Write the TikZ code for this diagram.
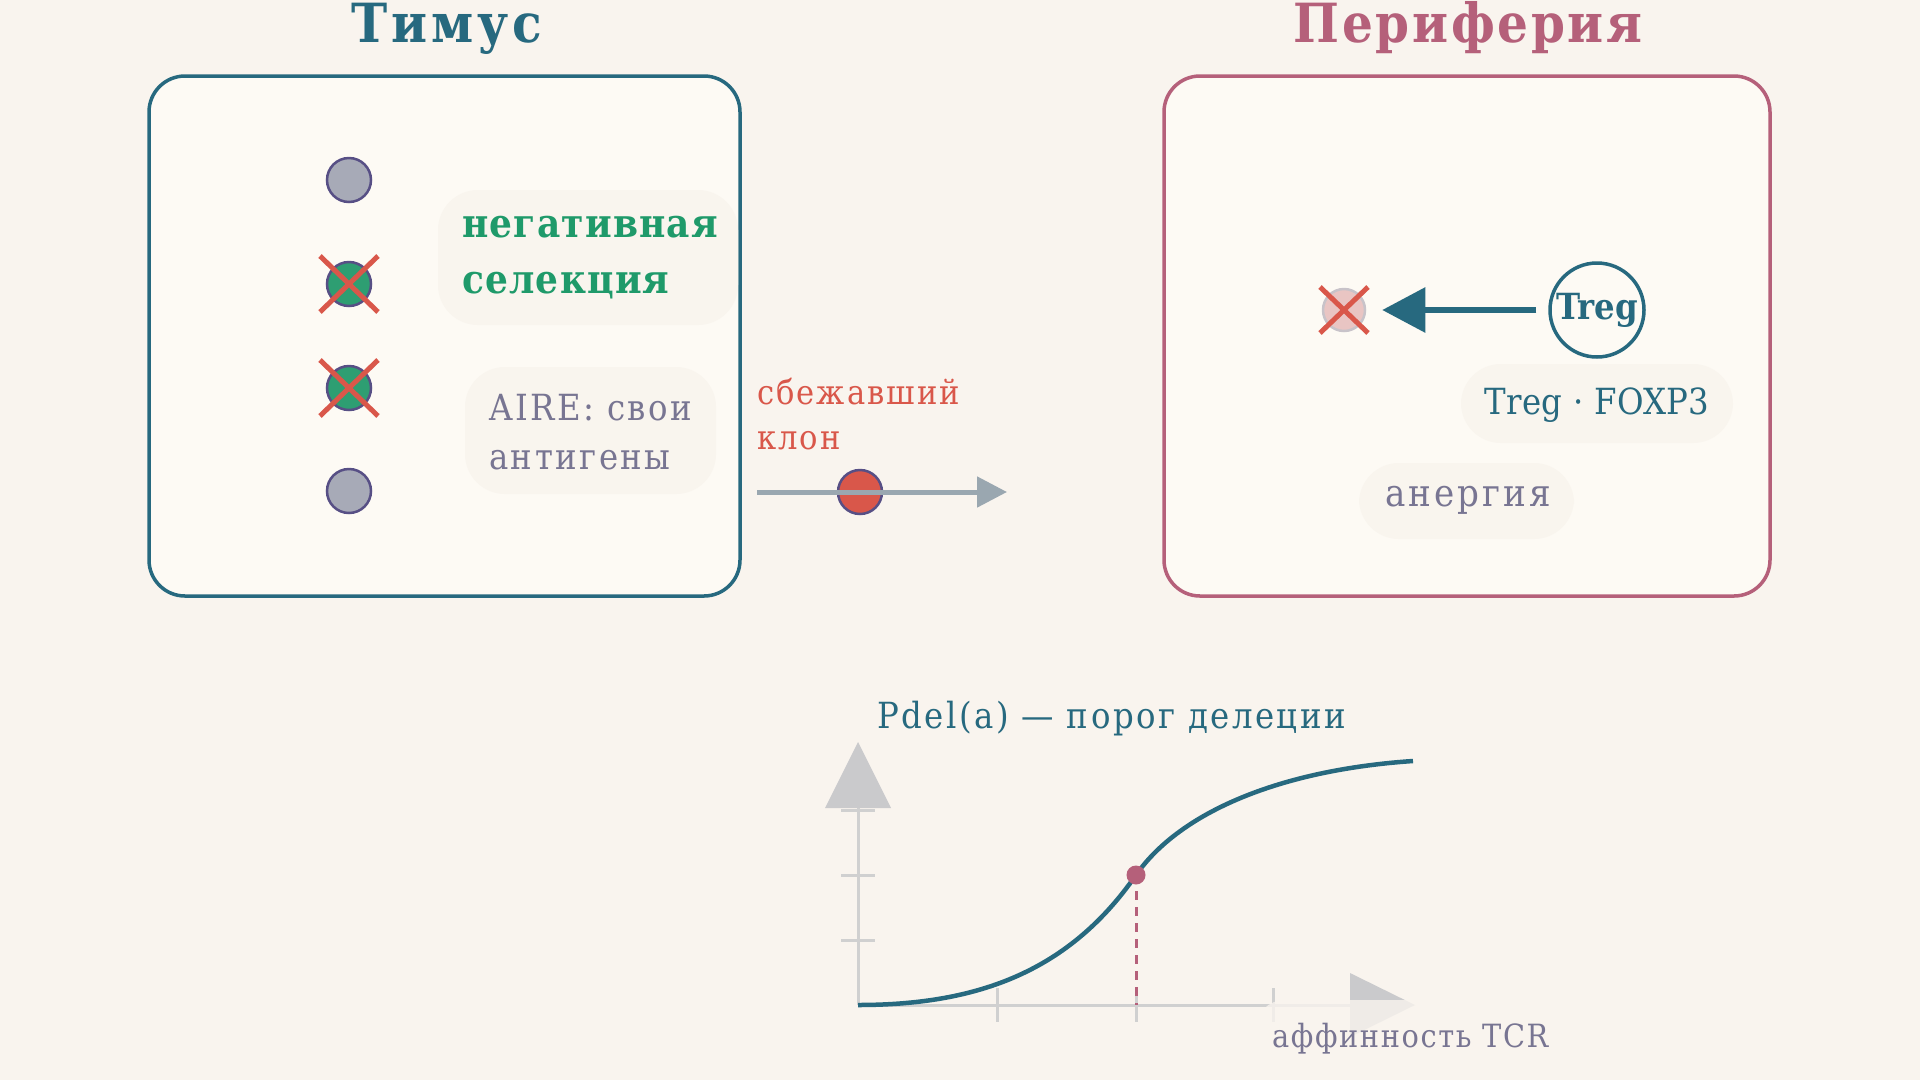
\documentclass[tikz,border=0pt]{standalone}
\usepackage{fontspec}
\setmainfont{DejaVu Serif Condensed}
\usetikzlibrary{arrows.meta}
\definecolor{bg}{HTML}{F9F4EE}
\definecolor{boxfill}{HTML}{FDFAF4}
\definecolor{bubblec}{HTML}{F9F5EE}
\definecolor{teal}{HTML}{27697F}
\definecolor{rose}{HTML}{B5607A}
\definecolor{selgreen}{HTML}{1F9A6A}
\definecolor{xred}{HTML}{D9574A}
\definecolor{grayp}{HTML}{787592}
\definecolor{cellborder}{HTML}{574F85}
\definecolor{cellgray}{HTML}{A7AAB7}
\definecolor{cellgreen}{HTML}{2E9E72}
\definecolor{arrowgray}{HTML}{9AA7B0}
\definecolor{axisc}{HTML}{D0D0D0}
\definecolor{axhead}{HTML}{CACACC}
\definecolor{deadfill}{HTML}{E9C5C3}
\definecolor{deadborder}{HTML}{C8C3C9}
\tikzset{
  panel/.style={fill=boxfill, line width=3.5pt, rounded corners=36pt},
  bubble/.style={fill=bubblec, rounded corners=40pt},
  cell/.style={circle, draw=cellborder, line width=2.5pt, minimum size=44pt, inner sep=0pt},
  xmark/.style={draw=xred, line width=5pt},
  axisline/.style={draw=axisc, line width=3pt},
  tickline/.style={draw=axisc, line width=3pt},
}
\newcommand{\fs}[2]{\fontsize{#1}{#2}\selectfont}
\newcommand{\lsp}[1]{\addfontfeatures{LetterSpace=#1}}
\begin{document}
\begin{tikzpicture}[x=1pt,y=-1pt]
\useasboundingbox (0,0) rectangle (1920,1080);
\fill[bg] (0,0) rectangle (1920,1080);

% titles
\node[anchor=base, text=teal, font=\bfseries\fs{54}{60}\lsp{7}, inner sep=0pt] (t1) at (447,42) {Тимус};
\node[anchor=base, text=rose, font=\bfseries\fs{54}{60}\lsp{5}, inner sep=0pt] (t2) at (1468,42) {Периферия};

% panels
\draw[panel, draw=teal] (149,76) rectangle (740,596);
\draw[panel, draw=rose] (1164,76) rectangle (1770,596);

% bubbles
\fill[bubble] (438,190) rectangle (738,325);
\fill[bubble] (465,367) rectangle (716,494);
\fill[bubble] (1461,364) rectangle (1733,443);
\fill[bubble] (1359,463) rectangle (1574,539);

% thymus cells
\node[cell, fill=cellgray] (c1) at (349,180) {};
\node[cell, fill=cellgreen] (c2) at (349,284) {};
\node[cell, fill=cellgreen] (c3) at (349,388) {};
\node[cell, fill=cellgray] (c4) at (349,491) {};
\draw[xmark] (c2.center) +(-29,-28) -- +(29,28) (c2.center) +(-29,28) -- +(29,-28);
\draw[xmark] (c3.center) +(-29,-28) -- +(29,28) (c3.center) +(-29,28) -- +(29,-28);

% thymus texts
\node[anchor=base west, align=left, text=selgreen, font=\bfseries\fs{40}{56}\lsp{3}, inner sep=0pt] (neg) at (462,293) {негативная\\селекция};
\node[anchor=base west, align=left, text=grayp, font=\fs{36}{49}\lsp{7}, inner sep=0pt] (aire) at (489,469) {AIRE: свои\\антигены};

% escaped clone
\node[anchor=base west, align=left, text=xred, font=\fs{34}{45}\lsp{6}, inner sep=0pt] (esc) at (757,449) {сбежавший\\клон};
\node[cell, fill=xred] (clone) at (860,492) {};
\coordinate (e0) at (757,492);
\coordinate (e1) at (1007,492);
\draw[draw=arrowgray, line width=5pt, -{Triangle[length=30pt,width=30pt]}] (e0) -- (e1);

% periphery
\node[circle, fill=deadfill, draw=deadborder, line width=2.5pt, minimum size=42pt, inner sep=0pt] (dead) at (1344,310) {};
\draw[xmark] (dead.center) +(-24,-23) -- +(24,23) (dead.center) +(-24,23) -- +(24,-23);
\node[circle, draw=teal, line width=3.5pt, minimum size=94pt, inner sep=0pt, text=teal, font=\bfseries\fs{36}{40}] (treg) at (1597,310) {Treg};
\draw[draw=teal, line width=6pt, shorten <=12pt, shorten >=16pt, -{Triangle[length=43pt,width=44pt]}] (treg.west) -- (dead.east);
\node[anchor=base, text=teal, font=\fs{36}{44}\lsp{1}, inner sep=0pt] (foxp) at (1597,414) {Treg · FOXP3};
\node[anchor=base, text=grayp, font=\fs{38}{44}\lsp{8}, inner sep=0pt] (anerg) at (1468,506) {анергия};

% graph
\fill[bubblec, opacity=0.6, rounded corners=30pt] (895,673) rectangle (1344,775);
\node[anchor=base west, text=teal, font=\fs{36}{44}\lsp{7}, inner sep=0pt] (pdel) at (877,728) {Pdel(a) — порог делеции};
\coordinate (o) at (858,1005);
\coordinate (ytop) at (858,808);
\coordinate (xend) at (1350,1005);
\draw[axisline] (o) -- (ytop);
\draw[axisline] (o) -- (xend);
\fill[axhead] (825,808) -- (858,742) -- (891,808) -- cycle;
\fill[axhead] (1350,973) -- (1415,1005) -- (1350,1037) -- cycle;
\foreach \yy in {810,875,940} \draw[tickline] (841,\yy) -- (875,\yy);
\foreach \xx in {997,1136,1273} \draw[tickline] (\xx,988) -- (\xx,1022);
\coordinate (mid) at (1136,875);
\coordinate (midx) at (1136,1005);
\coordinate (cend) at (1413,761);
\draw[draw=rose, line width=3pt, dash pattern=on 9pt off 7pt] (mid) -- (midx);
\draw[draw=teal, line width=4.5pt] (o) .. controls (980,1005) and (1070,970) .. (mid) .. controls (1180,812) and (1280,770) .. (cend);
\fill[rose] (mid) circle (9.5pt);
\fill[bg, opacity=0.8, rounded corners=30pt] (1255,1000) rectangle (1565,1075);
\node[anchor=base west, text=grayp, font=\fs{32}{40}\lsp{5}, inner sep=0pt] (aff) at (1272,1047) {аффинность TCR};
\end{tikzpicture}
\end{document}
